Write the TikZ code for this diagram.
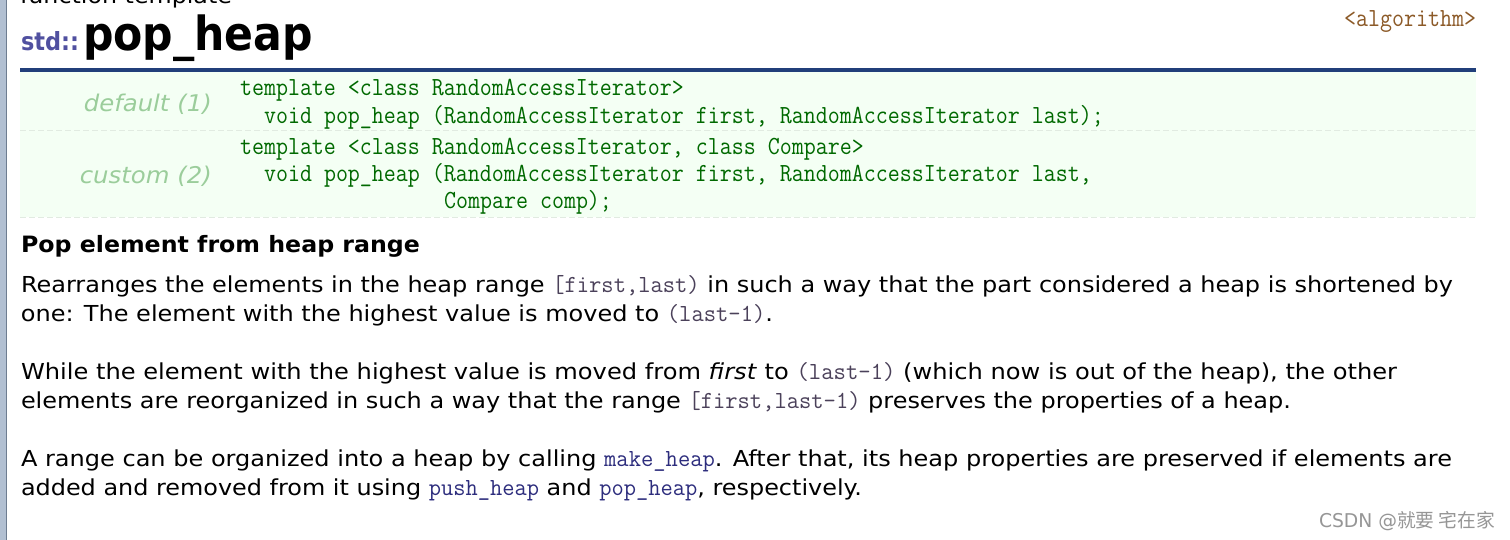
\documentclass[tikz,border=0pt]{standalone}
\usepackage{fontspec}
\usepackage{graphicx}
\setmainfont{DejaVu Sans}
\newfontfamily\cjkfont{Noto Sans CJK SC}
\definecolor{stripfill}{RGB}{178,192,210}
\definecolor{stripline}{RGB}{110,125,145}
\definecolor{rulenavy}{RGB}{33,63,122}
\definecolor{protobg}{RGB}{244,255,244}
\definecolor{sepgrey}{RGB}{225,235,225}
\definecolor{labelgreen}{RGB}{155,205,155}
\definecolor{codegreen}{RGB}{0,105,0}
\definecolor{hdrbrown}{RGB}{140,90,40}
\definecolor{stdblue}{RGB}{80,80,160}
\definecolor{inlcode}{RGB}{75,65,90}
\definecolor{linkblue}{RGB}{45,45,125}
\definecolor{wmgrey}{RGB}{150,150,150}
\newcommand\fitw[2]{\resizebox{#1pt}{\height}{#2}}
\newcommand\tallcode[1]{\scalebox{1}[1.12]{#1}}
\newcommand\body{\fontsize{22pt}{26pt}\selectfont}
\newcommand\codesz{\ttfamily\fontsize{23.3pt}{26pt}\selectfont}
\newcommand\ic[1]{{\ttfamily\fontsize{21.9pt}{24pt}\selectfont\color{inlcode}\tallcode{#1}}}
\newcommand\lk[1]{{\ttfamily\fontsize{21.9pt}{24pt}\selectfont\color{linkblue}\tallcode{#1}}}
\tikzset{
  txt/.style={anchor=base west, inner sep=0pt, outer sep=0pt},
  code/.style={txt, text=codegreen, font=\codesz},
  protolabel/.style={anchor=base east, inner sep=0pt, text=labelgreen, font=\fontsize{23pt}{26pt}\selectfont\itshape},
  sep/.style={draw=sepgrey, line width=1.5pt, dash pattern=on 6pt off 3pt}
}
\begin{document}
\begin{tikzpicture}[x=1pt,y=-1pt]
\useasboundingbox (0,0) rectangle (1510,540);
\clip (0,0) rectangle (1510,540);
\fill[white] (0,0) rectangle (1510,540);
% left strip
\fill[stripfill] (0,0) rectangle (6,540);
\draw[stripline, line width=1.2pt] (6.6,0) -- (6.6,540);
% top line (cropped at the top edge, as in the reference)
\node[txt, font=\fontsize{22pt}{24pt}\selectfont] (ft) at (20,4) {\fitw{212}{function template}};
% title
\node[txt, text=stdblue, font=\fontsize{25pt}{28pt}\selectfont\bfseries] (std) at (21,51) {\fitw{58}{std::}};
\node[txt, font=\fontsize{47pt}{50pt}\selectfont\bfseries] (title) at (83,51) {\fitw{230}{pop\_heap}};
\node[txt, text=hdrbrown, font=\codesz] (hdr) at (1344,27) {\tallcode{<algorithm>}};
% rule
\fill[rulenavy] (20,68) rectangle (1476,72);
% prototype box
\fill[protobg] (20,72) rectangle (1476,217);
\draw[sep] (20,130.5) -- (1476,130.5);
\draw[sep] (20,217.5) -- (1476,217.5);
\node[protolabel] (d1) at (212,112) {\fitw{128}{default (1)}};
\node[protolabel] (c2) at (212,184) {\fitw{132}{custom (2)}};
\node[code] (t1) at (240,96) {\tallcode{template <class RandomAccessIterator>}};
\node[code] (v1) at (264,123.5) {\tallcode{void pop\_heap (RandomAccessIterator first, RandomAccessIterator last);}};
\node[code] (t2) at (240,155) {\tallcode{template <class RandomAccessIterator, class Compare>}};
\node[code] (v2) at (264,182) {\tallcode{void pop\_heap (RandomAccessIterator first, RandomAccessIterator last,}};
\node[code] (v3) at (444,209) {\tallcode{Compare comp);}};
% heading
\node[txt, font=\fontsize{22.5pt}{26pt}\selectfont\bfseries] (head) at (21,252) {\fitw{399}{Pop element from heap range}};
% paragraphs
\node[txt, font=\body] (p1a) at (21,292) {\fitw{1432}{Rearranges the elements in the heap range \ic{[first,last)} in such a way that the part considered a heap is shortened by}};
\node[txt, font=\body] (p1b) at (21,321) {\fitw{752}{one: The element with the highest value is moved to \ic{(last-1)}.}};
\node[txt, font=\body] (p2a) at (21,379) {\fitw{1376}{While the element with the highest value is moved from \textit{first} to \ic{(last-1)} (which now is out of the heap), the other}};
\node[txt, font=\body] (p2b) at (21,408) {\fitw{1270}{elements are reorganized in such a way that the range \ic{[first,last-1)} preserves the properties of a heap.}};
\node[txt, font=\body] (p3a) at (21,466) {\fitw{1431}{A range can be organized into a heap by calling \lk{make\_heap}. After that, its heap properties are preserved if elements are}};
\node[txt, font=\body] (p3b) at (21,495) {\fitw{841}{added and removed from it using \lk{push\_heap} and \lk{pop\_heap}, respectively.}};
% watermark
\node[txt, text=wmgrey, font=\fontsize{19pt}{22pt}\selectfont] (wm) at (1319,527) {\fitw{176}{CSDN @{\cjkfont 就要 宅在家}}};
\end{tikzpicture}
\end{document}
